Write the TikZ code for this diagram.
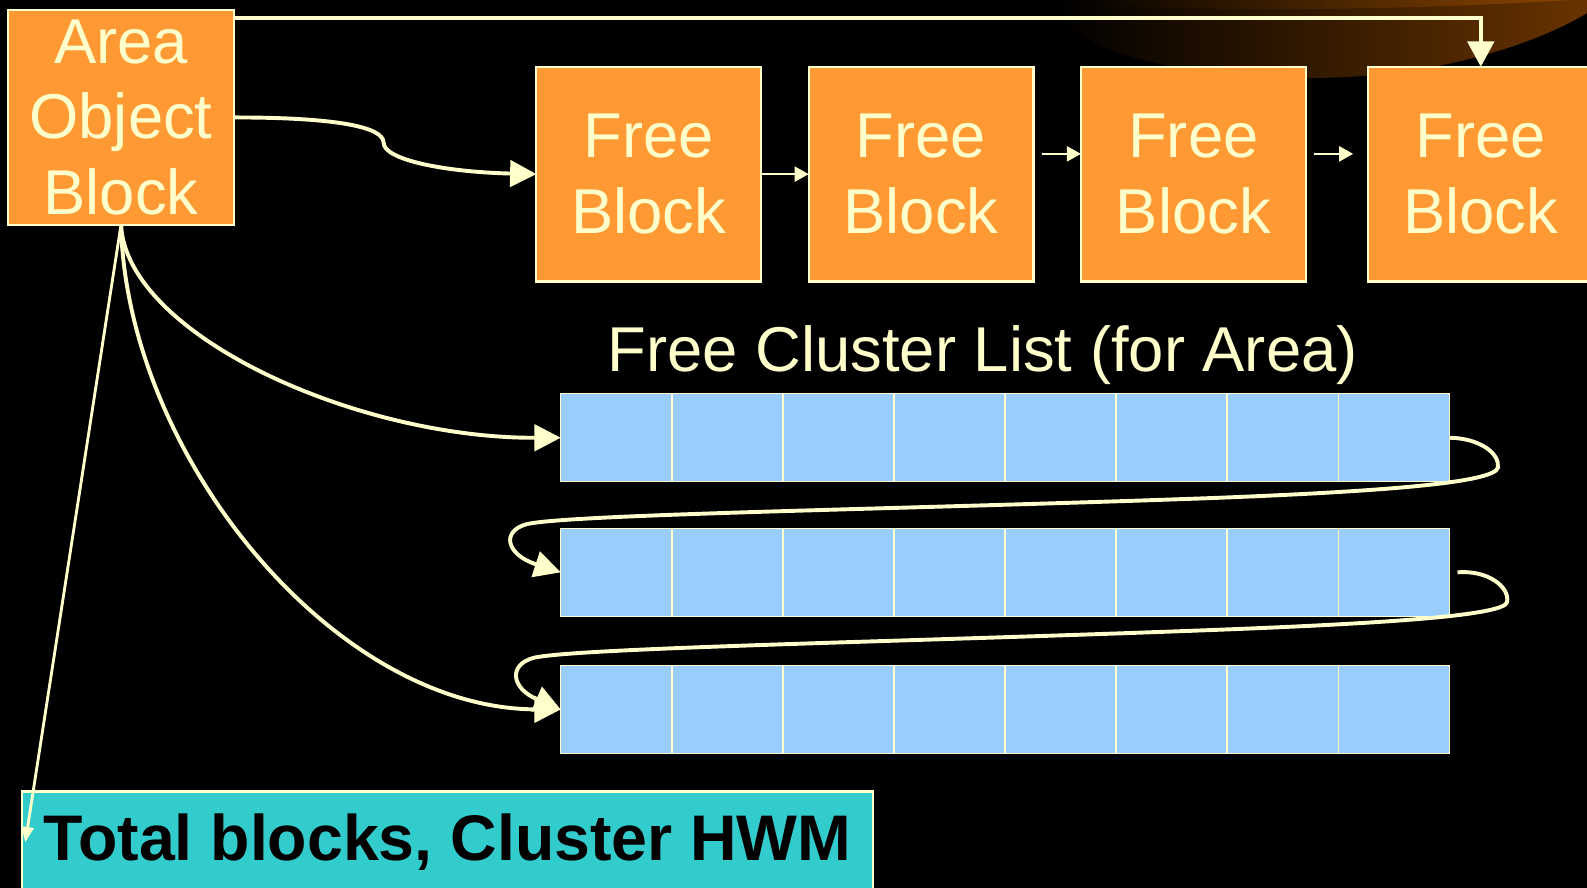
\documentclass[tikz,border=0pt]{standalone}
\usepackage{fontspec}
\setmainfont{Liberation Sans}
\usetikzlibrary{arrows.meta}
\definecolor{blockorange}{HTML}{FF9933}
\definecolor{listblue}{HTML}{99CCFF}
\definecolor{hwmteal}{HTML}{33CCCC}
\definecolor{linecream}{HTML}{FFFFCC}
\definecolor{swooshlight}{HTML}{8A4500}
\definecolor{swooshmid}{HTML}{552A00}
\definecolor{swooshdark}{HTML}{683300}

\begin{document}
\begin{tikzpicture}[x=0.01cm, y=-0.01cm, font=\fontsize{17.8}{21.3}\selectfont, line join=miter,
	box/.style={draw=linecream, line width=0.6pt, fill=blockorange, text=linecream, align=center, minimum width=2.22cm, minimum height=2.12cm, inner sep=0pt, outer sep=0pt, anchor=north west},
	cell/.style={draw=linecream, line width=0.4pt, fill=listblue, minimum width=1.0975cm, minimum height=0.87cm, inner sep=0pt, outer sep=0pt, anchor=west},
	link/.style={draw=linecream, line width=1.1pt, -{Triangle[length=0.26cm, width=0.26cm]}},
	small link/.style={draw=linecream, line width=0.6pt, -{Triangle[length=0.14cm, width=0.15cm]}}]
	
	% Nền
	\fill[black] (0,0) rectangle (1568,877);
	\useasboundingbox (0,0) rectangle (1568,877);
	\shade[left color=black, middle color=swooshmid, right color=swooshdark] (1040,0) .. controls (1045,45) and (1150,76) .. (1290,77) .. controls (1420,78) and (1520,42) .. (1568,13) -- (1568,0) -- cycle;
	\shade[left color=black, right color=swooshlight] (1050,0) .. controls (1150,14) and (1400,10) .. (1550,0) -- cycle;
	
	% Các khối
	\node[box, minimum width=2.23cm] (aob) at (8,10) {Area\\Object\\Block};
	\node[box] (fb1) at (530,66) {Free\\Block};
	\node[box] (fb2) at (799,66) {Free\\Block};
	\node[box] (fb3) at (1068,66) {Free\\Block};
	\node[box] (fb4) at (1352,66) {Free\\Block};
	
	% Danh sách cluster
	\node[text=linecream, anchor=base] (fcl) at (971,367) {Free Cluster List (for Area)};
	\foreach \r/\y in {1/432.5, 2/565.5, 3/701}
		\foreach \c in {1,...,8}
			\node[cell] (c\r\c) at ({554+109.75*(\c-1)},\y) {};
	
	\node[draw=linecream, line width=0.6pt, fill=hwmteal, minimum width=8.4cm, minimum height=1.0cm, inner sep=0pt, outer sep=0pt, anchor=north west, font=\fontsize{18.1}{21.3}\selectfont\bfseries] (hwm) at (22,782) {Total blocks, Cluster HWM};
	
	% Mũi tên giữa các khối
	\draw[link, -{Triangle[length=0.25cm, width=0.26cm]}] ([yshift=-0.08cm]aob.north east) -| (fb4.north);
	\draw[link] (aob.east) .. controls (330,116) and (379,125) .. (379,141) .. controls (379,158) and (440,170) .. (fb1.west);
	\draw[small link] (fb1.east) -- (fb2.west);
	\draw[small link] ([shift={(0.08cm,0.2cm)}]fb2.east) -- ([yshift=0.2cm]fb3.west);
	\draw[small link] ([shift={(0.08cm,0.2cm)}]fb3.east) -- ([shift={(-0.15cm,0.2cm)}]fb4.west);
	
	% Mũi tên xuống danh sách
	\draw[link] (aob.south) .. controls (125,330) and (350,433) .. (c11.west);
	\draw[link] (aob.south) .. controls (125,450) and (330,700) .. (c31.west);
	\draw[draw=linecream, line width=0.8pt, -{Triangle[length=0.15cm, width=0.12cm]}] (aob.south) -- ([xshift=0.03cm]hwm.west);
	
	% Nối các hàng
	\draw[link] (c18.east) .. controls (1462,433) and (1482,448) .. (1480,462) .. controls (1477,476) and (1380,485) .. (1200,492) .. controls (900,503) and (560,508) .. (520,518) .. controls (495,525) and (500,548) .. (c21.west);
	\draw[link] ([xshift=0.08cm]c28.east) .. controls (1470,563) and (1492,580) .. (1489,595) .. controls (1486,607) and (1390,615) .. (1210,622) .. controls (900,634) and (570,640) .. (527,650) .. controls (502,657) and (505,680) .. (c31.west);
\end{tikzpicture}
\end{document}
